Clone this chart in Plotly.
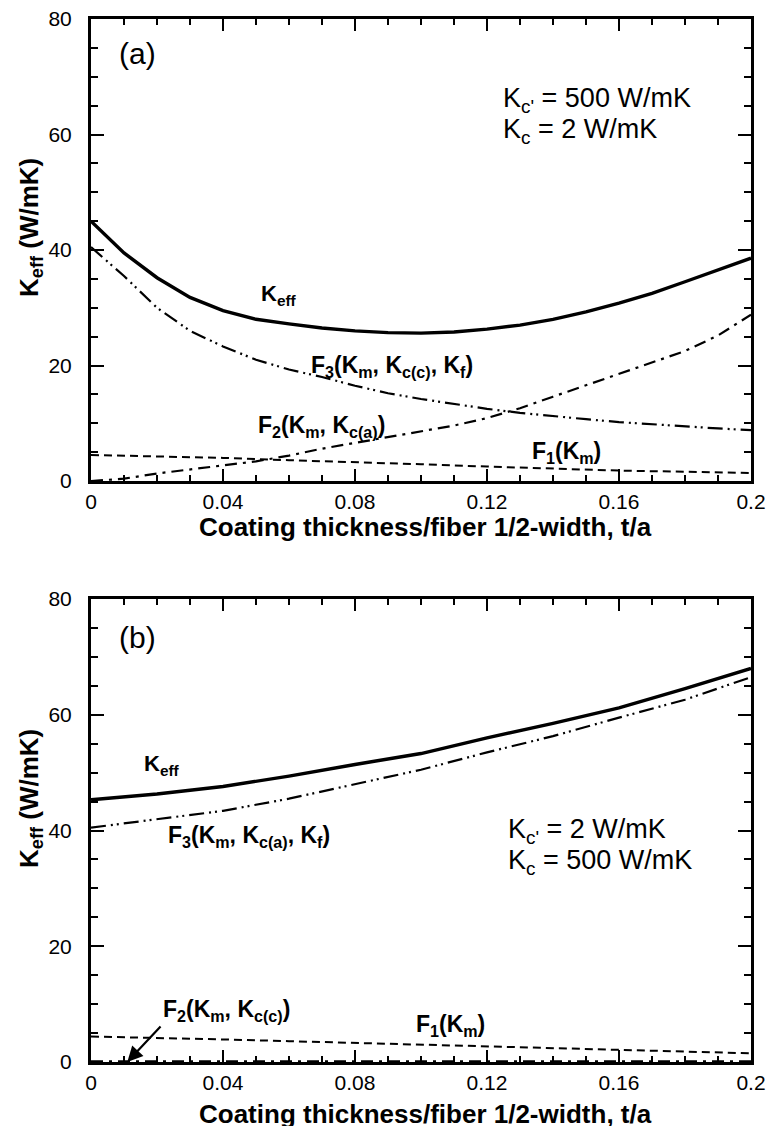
import plotly.graph_objects as go

# ---------------- data ----------------
t_a = [0, 0.01, 0.02, 0.03, 0.04, 0.05, 0.06, 0.07, 0.08, 0.09, 0.10,
       0.11, 0.12, 0.13, 0.14, 0.15, 0.16, 0.17, 0.18, 0.19, 0.20]
keff_a = [45, 39.5, 35.2, 31.8, 29.5, 28.0, 27.2, 26.5, 26.0, 25.7, 25.6,
          25.8, 26.3, 27.0, 28.0, 29.3, 30.8, 32.5, 34.5, 36.5, 38.6]
f3_a = [40.5, 35.5, 30.0, 26.0, 23.3, 21.0, 19.3, 18.0, 16.5, 15.2, 14.2,
        13.3, 12.5, 11.8, 11.2, 10.7, 10.2, 9.8, 9.4, 9.1, 8.8]
f2_a = [0, 0.4, 1.3, 2.0, 2.7, 3.4, 4.4, 5.6, 6.6, 7.6, 8.6,
        9.6, 10.9, 12.6, 14.6, 16.6, 18.6, 20.5, 22.5, 25.2, 28.8]
t_f1 = [0, 0.02, 0.04, 0.06, 0.08, 0.10, 0.12, 0.14, 0.16, 0.18, 0.20]
f1_a = [4.5, 4.3, 4.0, 3.6, 3.3, 2.9, 2.5, 2.1, 1.8, 1.6, 1.4]

t_b = [0, 0.02, 0.04, 0.06, 0.08, 0.10, 0.12, 0.14, 0.16, 0.18, 0.20]
keff_b = [45.3, 46.3, 47.6, 49.4, 51.4, 53.3, 56.0, 58.5, 61.2, 64.5, 68.0]
f3_b = [40.5, 41.9, 43.4, 45.5, 48.0, 50.5, 53.5, 56.3, 59.5, 62.6, 66.5]
f2_b = [0.1, 0.1, 0.1, 0.1, 0.1, 0.1, 0.1, 0.1, 0.1, 0.1, 0.1]
f1_b = [4.4, 4.2, 3.9, 3.6, 3.3, 2.9, 2.6, 2.3, 2.0, 1.7, 1.5]

x_ticks = [0, 0.04, 0.08, 0.12, 0.16, 0.2]
x_ticktext = ["0", "0.04", "0.08", "0.12", "0.16", "0.2"]
y_ticks = [0, 20, 40, 60, 80]
y_ticktext = ["0", "20", "40", "60", "80"]

# ---------------- figure ----------------
W, H = 770, 1126
ML, MR, MT, MB = 91, 19, 19, 64
PW, PH = W - ML - MR, H - MT - MB

def px(xp):
    return (xp - ML) / PW

def py(yp):
    return (H - MB - yp) / PH

FONT = "Liberation Sans, Arial, Helvetica, sans-serif"
BLACK = "black"

fig = go.Figure()

def add_panel(xa, ya, keff, f3, f2, f1, tk, t3, t2, t1):
    fig.add_trace(go.Scatter(x=tk, y=keff, mode="lines", xaxis=xa, yaxis=ya,
                             line=dict(color=BLACK, width=3.4), showlegend=False))
    fig.add_trace(go.Scatter(x=t3, y=f3, mode="lines", xaxis=xa, yaxis=ya,
                             line=dict(color=BLACK, width=2.2, dash="15px,5px,2px,4px,2px,5px"),
                             showlegend=False))
    fig.add_trace(go.Scatter(x=t2, y=f2, mode="lines", xaxis=xa, yaxis=ya,
                             line=dict(color=BLACK, width=2.2, dash="12px,6px,3px,6px"),
                             showlegend=False))
    fig.add_trace(go.Scatter(x=t1, y=f1, mode="lines", xaxis=xa, yaxis=ya,
                             line=dict(color=BLACK, width=2, dash="8px,5px"),
                             showlegend=False))

add_panel("x", "y", keff_a, f3_a, f2_a, f1_a, t_a, t_a, t_a, t_f1)
add_panel("x2", "y2", keff_b, f3_b, f2_b, f1_b, t_b, t_b, t_b, t_b)

def xaxis_cfg(anchor):
    return dict(anchor=anchor, domain=[0, 1], range=[0, 0.2],
                tickmode="array", tickvals=x_ticks, ticktext=x_ticktext,
                ticks="inside", ticklen=12, tickwidth=2, tickcolor=BLACK,
                minor=dict(dtick=0.01, ticks="inside", ticklen=6,
                           tickwidth=1.5, tickcolor=BLACK, showgrid=False),
                showline=True, linewidth=3, linecolor=BLACK, mirror="ticks",
                showgrid=False, zeroline=False, layer="above traces",
                tickfont=dict(family=FONT, size=21, color=BLACK))

def yaxis_cfg(anchor, dom):
    return dict(anchor=anchor, domain=dom, range=[0, 80],
                tickmode="array", tickvals=y_ticks, ticktext=y_ticktext,
                ticks="inside", ticklen=13, tickwidth=2, tickcolor=BLACK,
                minor=dict(dtick=5, ticks="inside", ticklen=7,
                           tickwidth=1.5, tickcolor=BLACK, showgrid=False),
                showline=True, linewidth=3, linecolor=BLACK, mirror="ticks",
                showgrid=False, zeroline=False, layer="above traces",
                ticklabelstandoff=12,
                tickfont=dict(family=FONT, size=21, color=BLACK))

fig.update_layout(
    template="none",
    width=W, height=H,
    margin=dict(l=ML, r=MR, t=MT, b=MB, pad=0),
    paper_bgcolor="white", plot_bgcolor="white",
    xaxis=xaxis_cfg("y"),
    yaxis=yaxis_cfg("x", [py(481), py(19)]),
    xaxis2=xaxis_cfg("y2"),
    yaxis2=yaxis_cfg("x2", [py(1062), py(599)]),
    font=dict(family=FONT, color=BLACK),
)

anns = []

def txt(text, x, y, size, bold=False, xanchor="center", angle=0):
    if bold:
        text = "<b>" + text + "</b>"
    anns.append(dict(text=text, x=px(x), y=py(y), xref="paper", yref="paper",
                     xanchor=xanchor, yanchor="middle", showarrow=False,
                     textangle=angle,
                     font=dict(family=FONT, size=size, color=BLACK)))

# axis titles
xtitle = "Coating thickness/fiber 1/2-width, t/a"
txt(xtitle, 425, 527, 26, bold=True)
txt(xtitle, 425, 1114, 26, bold=True)
txt("K<sub>eff</sub> (W/mK)", 30, 228, 26, bold=True, angle=-90)
txt("K<sub>eff</sub> (W/mK)", 30, 799, 26, bold=True, angle=-90)

# panel (a)
txt("(a)", 117, 54, 30, xanchor="left")
txt("K<sub>c'</sub> = 500 W/mK", 501, 100, 27, xanchor="left")
txt("K<sub>c</sub> = 2 W/mK", 501, 131, 27, xanchor="left")
txt("K<sub>eff</sub>", 259, 295, 22, bold=True, xanchor="left")
txt("F<sub>3</sub>(K<sub>m</sub>, K<sub>c(c)</sub>, K<sub>f</sub>)", 309, 366, 23, bold=True, xanchor="left")
txt("F<sub>2</sub>(K<sub>m</sub>, K<sub>c(a)</sub>)", 256, 426, 23, bold=True, xanchor="left")
txt("F<sub>1</sub>(K<sub>m</sub>)", 530, 453, 23, bold=True, xanchor="left")

# panel (b)
txt("(b)", 117, 637, 30, xanchor="left")
txt("K<sub>c'</sub> = 2 W/mK", 506, 831, 27, xanchor="left")
txt("K<sub>c</sub> = 500 W/mK", 506, 862, 27, xanchor="left")
txt("K<sub>eff</sub>", 142, 765, 22, bold=True, xanchor="left")
txt("F<sub>3</sub>(K<sub>m</sub>, K<sub>c(a)</sub>, K<sub>f</sub>)", 166, 836, 23, bold=True, xanchor="left")
txt("F<sub>2</sub>(K<sub>m</sub>, K<sub>c(c)</sub>)", 161, 1010, 23, bold=True, xanchor="left")
txt("F<sub>1</sub>(K<sub>m</sub>)", 414, 1025, 23, bold=True, xanchor="left")

# arrow pointing to F2 in panel (b)
anns.append(dict(x=0.011, y=0, xref="x2", yref="y2", ax=0.0215, ay=6.4,
                 axref="x2", ayref="y2", showarrow=True, arrowhead=2,
                 arrowsize=1.4, arrowwidth=2.2, arrowcolor=BLACK, text=""))

fig.update_layout(annotations=anns)

fig.write_html("out.html")
